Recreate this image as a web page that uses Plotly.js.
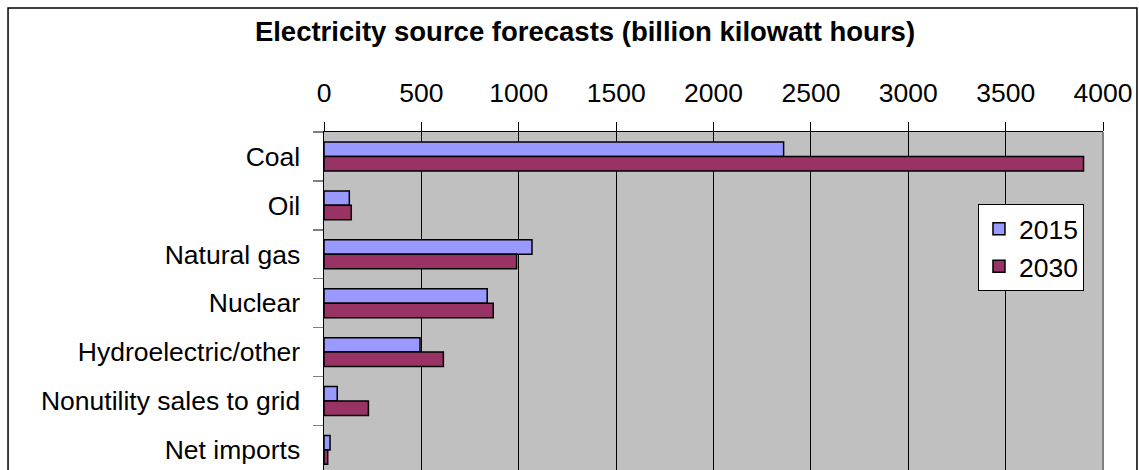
<!DOCTYPE html>
<html>
<head>
<meta charset="utf-8">
<script src="https://cdn.plot.ly/plotly-3.0.1.min.js"></script>
<style>html,body{margin:0;padding:0;background:#fff;overflow:hidden}</style>
</head>
<body>
<div id="chart" style="width:1139px;height:470px"></div>
<script>
var categories = ["Coal", "Oil", "Natural gas", "Nuclear", "Hydroelectric/other", "Nonutility sales to grid", "Net imports"];
var series2015 = [2360, 130, 1068, 838, 493, 68, 31];
var series2030 = [3900, 140, 989, 869, 613, 228, 19];
var seriesNames = ["2015", "2030"];
var xTicks = [0, 500, 1000, 1500, 2000, 2500, 3000, 3500, 4000];

var FONT = "Liberation Sans, Arial, sans-serif";
var FS = 26.5;
var traces = [
  {type: "bar", orientation: "h", name: seriesNames[0], y: categories, x: series2015,
   legendgroup: "a",
   marker: {color: "#9999FF", line: {color: "#000000", width: 1.5}}, hoverinfo: "x+y"},
  {type: "bar", orientation: "h", name: seriesNames[1], y: categories, x: series2030,
   legendgroup: "b",
   marker: {color: "#993366", line: {color: "#000000", width: 1.5}}, hoverinfo: "x+y"}
];
var layout = {
  width: 1139, height: 470,
  margin: {l: 324, r: 36, t: 132, b: 0, pad: 0},
  paper_bgcolor: "#FFFFFF",
  plot_bgcolor: "#C0C0C0",
  barmode: "group",
  bargap: 0.41,
  bargroupgap: 0,
  font: {family: FONT, size: FS, color: "#000"},
  title: {text: "<b>Electricity source forecasts (billion kilowatt hours)</b>",
          font: {family: FONT, size: 27.5, color: "#000"},
          xref: "container", x: 0.5136, xanchor: "center",
          yref: "container", y: 0.933, yanchor: "middle"},
  xaxis: {side: "top", range: [0, 4000], tickvals: xTicks, ticktext: xTicks.map(String),
          showgrid: true, gridcolor: "#000000", gridwidth: 1,
          ticks: "outside", ticklen: 9, tickcolor: "#000000", tickwidth: 1,
          showline: true, linecolor: "#000000", linewidth: 1.5,
          ticklabelstandoff: 9,
          zeroline: false, tickfont: {family: FONT, size: FS, color: "#000"},
          fixedrange: true},
  yaxis: {type: "category", categoryorder: "array", categoryarray: categories,
          range: [6.41, -0.5], showgrid: false, zeroline: false,
          tickson: "boundaries", ticks: "outside", ticklen: 10, tickcolor: "#808080", tickwidth: 1.5,
          showline: true, linecolor: "#000000", linewidth: 1.5,
          ticklabelstandoff: 17,
          tickfont: {family: FONT, size: FS, color: "#000"}, fixedrange: true},
  legend: {x: 0.8395, y: 0.787, xanchor: "left", yanchor: "top",
           bgcolor: "#FFFFFF", bordercolor: "#000000", borderwidth: 1,
           tracegroupgap: 9, traceorder: "normal",
           font: {family: FONT, size: FS, color: "#000"}},
  shapes: [
    {type: "rect", xref: "paper", yref: "paper", x0: -0.4056, x1: 1.0436, y0: -0.2, y1: 1.3669,
     line: {color: "#000000", width: 1.5}, fillcolor: "rgba(0,0,0,0)", layer: "above"},
    {type: "line", xref: "paper", yref: "paper", x0: 1, x1: 1, y0: 0, y1: 1,
     line: {color: "#808080", width: 2}, layer: "above"}
  ],
  showlegend: true
};
Plotly.newPlot("chart", traces, layout, {displayModeBar: false, staticPlot: true});
</script>
</body>
</html>
